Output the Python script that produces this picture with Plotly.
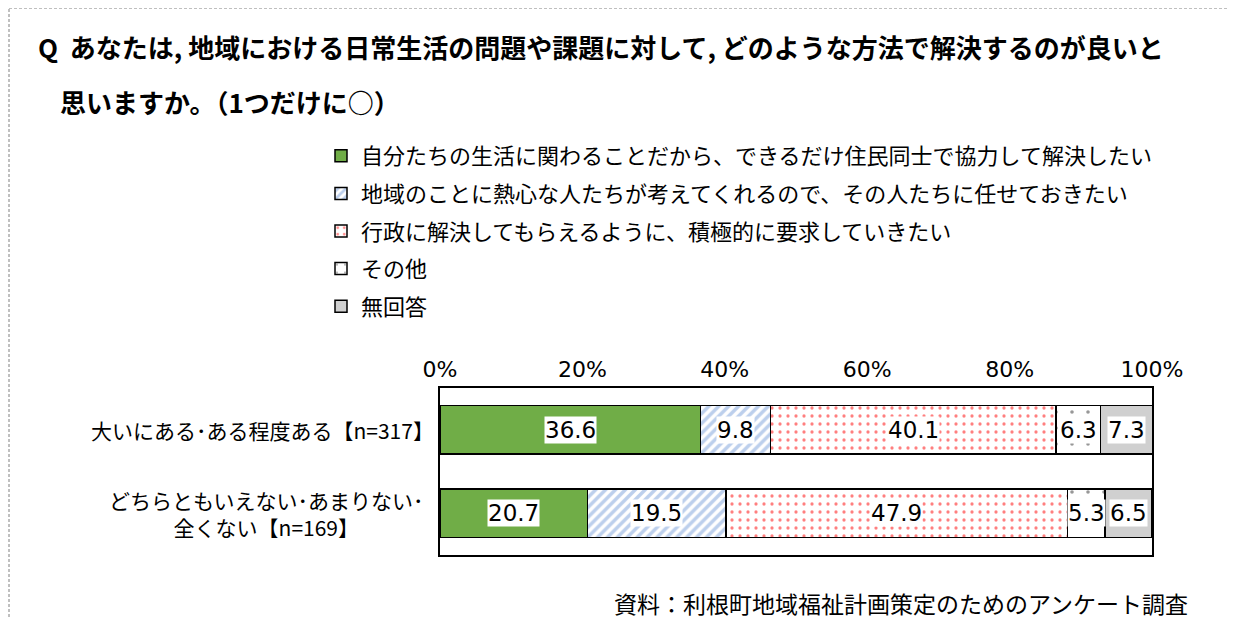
import plotly.graph_objects as go

W, H = 1236, 618
OFF = 8  # page offset of the figure inside the browser window
PLOT_X0, PLOT_X1, PLOT_Y0, PLOT_Y1 = 440, 1152, 388, 555  # screen pixels
L = PLOT_X0 - OFF
T = PLOT_Y0 - OFF
R = W - (PLOT_X1 - OFF)
B = H - (PLOT_Y1 - OFF)
PW, PH = PLOT_X1 - PLOT_X0, PLOT_Y1 - PLOT_Y0

def xp(px):
    return (px - PLOT_X0) / PW

def yp(py):
    return (PLOT_Y1 - py) / PH

categories = ["大いにある･ある程度ある【n=317】",
              "どちらともいえない･あまりない･<br>全くない【n=169】"]
series_names = [
    "自分たちの生活に関わることだから、できるだけ住民同士で協力して解決したい",
    "地域のことに熱心な人たちが考えてくれるので、その人たちに任せておきたい",
    "行政に解決してもらえるように、積極的に要求していきたい",
    "その他",
    "無回答",
]
values = [
    [36.6, 20.7],
    [9.8, 19.5],
    [40.1, 47.9],
    [6.3, 5.3],
    [7.3, 6.5],
]
tick_values = [0, 20, 40, 60, 80, 100]
tick_labels = ["0%", "20%", "40%", "60%", "80%", "100%"]
title_line1 = "Q  あなたは, 地域における日常生活の問題や課題に対して, どのような方法で解決するのが良いと"
title_line2 = "思いますか。（1つだけに○）"
source_note = "資料：利根町地域福祉計画策定のためのアンケート調査"

FONT = "DejaVu Sans, Noto Sans CJK JP, sans-serif"
CJK = "Noto Sans CJK JP, sans-serif"

styles = [
    dict(color="#70AD47"),
    dict(color="white", pattern=dict(shape="/", fgcolor="#7A9FDA", bgcolor="white", size=7, solidity=0.5)),
    dict(color="white", pattern=dict(shape=".", fgcolor="#FF0000", bgcolor="white", size=8, solidity=0.13)),
    dict(color="white", pattern=dict(shape=".", fgcolor="#303030", bgcolor="white", size=16, solidity=0.04)),
    dict(color="#D0D0D0"),
]

fig = go.Figure()
ykeys = [0, 1]
for i, name in enumerate(series_names):
    st = styles[i]
    marker = dict(color=st["color"], line=dict(color="black", width=1.5))
    if "pattern" in st:
        marker["pattern"] = st["pattern"]
    fig.add_trace(go.Bar(
        y=ykeys, x=values[i], name=name, orientation="h", width=0.58,
        marker=marker, legendgroup=f"g{i}", hoverinfo="skip",
    ))

annotations = []
for j in range(len(categories)):
    cum = 0
    for i in range(len(series_names)):
        v = values[i][j]
        annotations.append(dict(
            x=cum + v / 2, y=ykeys[j], xref="x", yref="y", text=f"{v:.1f}",
            showarrow=False, bgcolor="white", borderpad=0,
            font=dict(family=FONT, size=23, color="black"),
        ))
        cum += v

# category labels
annotations.append(dict(x=xp(436), y=ykeys[0], xref="paper", yref="y", text=categories[0],
                        showarrow=False, xanchor="right", align="right",
                        font=dict(family=CJK, size=21, color="black")))
annotations.append(dict(x=xp(266), y=ykeys[1], xref="paper", yref="y", text=categories[1],
                        showarrow=False, xanchor="center", align="center",
                        font=dict(family=CJK, size=21, color="black")))
# title
annotations.append(dict(x=xp(36), y=yp(46), xref="paper", yref="paper", text="<b>" + title_line1 + "</b>",
                        showarrow=False, xanchor="left", yanchor="middle",
                        font=dict(family=CJK, size=26, color="black")))
annotations.append(dict(x=xp(58), y=yp(101), xref="paper", yref="paper", text="<b>" + title_line2 + "</b>",
                        showarrow=False, xanchor="left", yanchor="middle",
                        font=dict(family=CJK, size=26, color="black")))
annotations.append(dict(x=xp(1190), y=yp(603), xref="paper", yref="paper", text=source_note,
                        showarrow=False, xanchor="right", yanchor="middle",
                        font=dict(family=CJK, size=23, color="black")))

fig.update_layout(
    width=W, height=H,
    margin=dict(l=L, r=R, t=T, b=B, pad=0, autoexpand=False),
    barmode="stack",
    plot_bgcolor="white", paper_bgcolor="white",
    font=dict(family=FONT, color="black"),
    xaxis=dict(range=[0, 100], side="top", tickvals=tick_values, ticktext=tick_labels,
               showgrid=False, zeroline=False, showline=True, linecolor="black", linewidth=2,
               mirror=True, ticks="", tickfont=dict(size=22, family=FONT), fixedrange=True,
               automargin=False),
    yaxis=dict(range=[1.5, -0.5], showticklabels=False, showgrid=False, zeroline=False,
               showline=True, linecolor="black", linewidth=2, mirror=True, ticks="",
               fixedrange=True, automargin=False),
    showlegend=True,
    legend=dict(x=xp(321), y=yp(135), xanchor="left", yanchor="top", orientation="v",
                traceorder="grouped", font=dict(family=CJK, size=22, color="black"),
                tracegroupgap=6, itemwidth=30, bgcolor="rgba(0,0,0,0)"),
    annotations=annotations,
    shapes=[dict(type="rect", xref="paper", yref="paper", x0=xp(9), x1=xp(1234), y0=yp(8), y1=yp(650),
                 line=dict(color="#808080", width=1, dash="3px,2px"), fillcolor="rgba(0,0,0,0)", layer="below")],
)

fig.write_html("out.html")
